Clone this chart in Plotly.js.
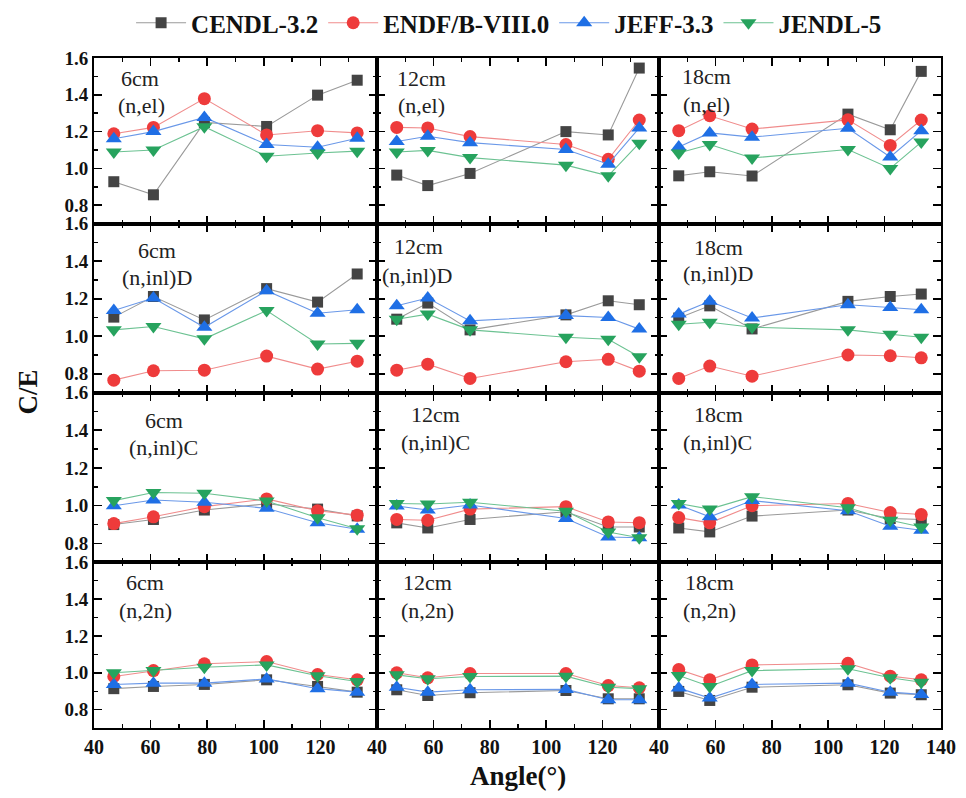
<!DOCTYPE html>
<html>
<head>
<meta charset="utf-8">
<script src="https://cdn.plot.ly/plotly-3.0.1.min.js"></script>
<style>html,body{margin:0;padding:0;background:#fff;}#chart{width:966px;height:798px;}</style>
</head>
<body>
<div id="chart"></div>
<script>
// ---- data ----
const distances = ['6cm', '12cm', '18cm'];
const reactions = ['(n,el)', '(n,inl)D', '(n,inl)C', '(n,2n)'];
const libraries = ['CENDL-3.2', 'ENDF/B-VIII.0', 'JEFF-3.3', 'JENDL-5'];
const angles6cm = [47, 61, 79, 101, 119, 133];
const angles12cm = [47, 58, 73, 107, 122, 133];
const angles18cm = [47, 58, 73, 107, 122, 133];
const xTickVals = [40, 60, 80, 100, 120, 140];
const yTickVals = [0.8, 1.0, 1.2, 1.4, 1.6];

// each array: [6cm values, 12cm values, 18cm values]
const CENDL_el = [[0.928, 0.857, 1.25, 1.228, 1.398, 1.479], [0.964, 0.907, 0.973, 1.20, 1.182, 1.545], [0.96, 0.982, 0.959, 1.295, 1.21, 1.527]];
const ENDF_el = [[1.188, 1.223, 1.379, 1.182, 1.205, 1.193], [1.223, 1.22, 1.173, 1.13, 1.05, 1.263], [1.205, 1.286, 1.214, 1.264, 1.125, 1.263]];
const JEFF_el = [[1.161, 1.20, 1.277, 1.13, 1.115, 1.164], [1.146, 1.175, 1.14, 1.103, 1.023, 1.22], [1.116, 1.193, 1.17, 1.218, 1.062, 1.205]];
const JENDL_el = [[1.089, 1.10, 1.227, 1.066, 1.084, 1.094], [1.089, 1.098, 1.059, 1.018, 0.96, 1.137], [1.084, 1.13, 1.057, 1.103, 1.0, 1.143]];

const CENDL_inlD = [[1.102, 1.212, 1.087, 1.254, 1.182, 1.332], [1.091, 1.177, 1.034, 1.114, 1.189, 1.168], [1.097, 1.162, 1.039, 1.186, 1.212, 1.225]];
const ENDF_inlD = [[0.766, 0.816, 0.819, 0.894, 0.825, 0.867], [0.819, 0.851, 0.775, 0.864, 0.877, 0.814], [0.775, 0.841, 0.787, 0.90, 0.896, 0.885]];
const JEFF_inlD = [[1.137, 1.204, 1.048, 1.243, 1.123, 1.141], [1.163, 1.204, 1.082, 1.11, 1.10, 1.038], [1.118, 1.186, 1.097, 1.168, 1.153, 1.141]];
const JENDL_inlD = [[1.034, 1.052, 0.986, 1.137, 0.959, 0.962], [1.091, 1.118, 1.034, 0.995, 0.984, 0.891], [1.064, 1.075, 1.048, 1.034, 1.011, 0.995]];

const CENDL_inlC = [[0.90, 0.927, 0.977, 1.01, 0.982, 0.946], [0.909, 0.882, 0.927, 0.968, 0.887, 0.887], [0.882, 0.861, 0.945, 0.977, 0.932, 0.927]];
const ENDF_inlC = [[0.905, 0.941, 0.995, 1.036, 0.973, 0.95], [0.927, 0.923, 0.982, 0.995, 0.914, 0.91], [0.937, 0.909, 1.0, 1.012, 0.964, 0.953]];
const JEFF_inlC = [[1.0, 1.03, 1.018, 0.986, 0.91, 0.875], [0.998, 0.977, 1.004, 0.932, 0.834, 0.83], [1.004, 0.941, 1.027, 0.973, 0.891, 0.87]];
const JENDL_inlC = [[1.027, 1.07, 1.066, 1.025, 0.936, 0.878], [1.012, 1.009, 1.018, 0.971, 0.861, 0.83], [1.012, 0.982, 1.048, 0.989, 0.923, 0.887]];

const CENDL_2n = [[0.914, 0.926, 0.937, 0.962, 0.926, 0.895], [0.908, 0.877, 0.892, 0.904, 0.859, 0.859], [0.899, 0.85, 0.922, 0.935, 0.89, 0.881]];
const ENDF_2n = [[0.98, 1.012, 1.049, 1.061, 0.991, 0.962], [1.0, 0.973, 0.996, 0.996, 0.931, 0.919], [1.018, 0.962, 1.043, 1.052, 0.982, 0.962]];
const JEFF_2n = [[0.937, 0.944, 0.944, 0.967, 0.914, 0.895], [0.922, 0.895, 0.908, 0.91, 0.854, 0.854], [0.917, 0.863, 0.937, 0.944, 0.895, 0.883]];
const JENDL_2n = [[1.0, 1.012, 1.03, 1.043, 0.984, 0.953], [0.989, 0.968, 0.98, 0.982, 0.922, 0.914], [0.985, 0.926, 1.012, 1.022, 0.973, 0.949]];

// ---- build ----
const anglesByCol = [angles6cm, angles12cm, angles18cm];
const dataByRow = [
  [CENDL_el, ENDF_el, JEFF_el, JENDL_el],
  [CENDL_inlD, ENDF_inlD, JEFF_inlD, JENDL_inlD],
  [CENDL_inlC, ENDF_inlC, JEFF_inlC, JENDL_inlC],
  [CENDL_2n, ENDF_2n, JEFF_2n, JENDL_2n]
];
const styles = [
  {symbol: 'square', size: 11, mcolor: '#444444', lcolor: '#9a9a9a'},
  {symbol: 'circle', size: 13, mcolor: '#ee3b3b', lcolor: '#f08c8c'},
  {symbol: 'triangle-up', size: 14, mcolor: '#1f6fe5', lcolor: '#6a98e8'},
  {symbol: 'triangle-down', size: 14, mcolor: '#27a35e', lcolor: '#6cc292'}
];

const W = 966, H = 798;
const colEdges = [94, 377, 659, 941];
const rowEdges = [57, 223, 392, 562, 728];
const serif = 'Liberation Serif, Times New Roman, serif';

const traces = [];
const layout = {
  width: W, height: H,
  margin: {l: 0, r: 0, t: 0, b: 0},
  paper_bgcolor: '#ffffff', plot_bgcolor: '#ffffff',
  showlegend: true,
  legend: {
    orientation: 'h', x: 0.527, xanchor: 'center', y: 0.972, yanchor: 'middle',
    font: {family: serif, size: 25, weight: 'bold', color: '#111'},
    itemwidth: 50, tracegroupgap: 0, bgcolor: 'rgba(0,0,0,0)'
  },
  annotations: [],
  shapes: []
};

for (let r = 0; r < 4; r++) {
  for (let c = 0; c < 3; c++) {
    const n = r * 3 + c + 1;
    const xs = n === 1 ? 'x' : 'x' + n;
    const ys = n === 1 ? 'y' : 'y' + n;
    const xk = n === 1 ? 'xaxis' : 'xaxis' + n;
    const yk = n === 1 ? 'yaxis' : 'yaxis' + n;
    layout[xk] = {
      domain: [colEdges[c] / W, colEdges[c + 1] / W],
      anchor: ys,
      range: [40, 140],
      tickmode: 'array', tickvals: xTickVals,
      ticktext: xTickVals.map(v => (v === 140 && c < 2) ? '' : String(v)),
      showticklabels: r === 3,
      ticks: 'inside', ticklen: 8, tickwidth: 1.6, tickcolor: '#000',
      minor: {ticks: 'inside', ticklen: 4, tickwidth: 1.4, tickcolor: '#000', dtick: 10, tick0: 40},
      showline: true, linewidth: 2, linecolor: '#000', mirror: 'allticks',
      showgrid: false, zeroline: false,
      tickfont: {family: serif, size: 20, weight: 'bold', color: '#111'},
      fixedrange: true
    };
    layout[yk] = {
      domain: [1 - rowEdges[r + 1] / H, 1 - rowEdges[r] / H],
      anchor: xs,
      range: [0.7, 1.6],
      tickmode: 'array', tickvals: yTickVals,
      ticktext: yTickVals.map(v => v.toFixed(1)),
      showticklabels: c === 0,
      ticks: 'inside', ticklen: 8, tickwidth: 1.6, tickcolor: '#000',
      minor: {ticks: 'inside', ticklen: 4, tickwidth: 1.4, tickcolor: '#000', dtick: 0.1, tick0: 0.7},
      showline: true, linewidth: 2, linecolor: '#000', mirror: 'allticks',
      showgrid: false, zeroline: false,
      tickfont: {family: serif, size: 19, weight: 'bold', color: '#111'},
      fixedrange: true
    };
    for (let k = 0; k < 4; k++) {
      const st = styles[k];
      traces.push({
        type: 'scatter', mode: 'lines+markers',
        x: anglesByCol[c], y: dataByRow[r][k][c],
        xaxis: xs, yaxis: ys,
        name: libraries[k], legendgroup: libraries[k], showlegend: n === 1,
        line: {color: st.lcolor, width: 1.1},
        marker: {symbol: st.symbol, size: st.size, color: st.mcolor, line: {width: 0}},
        cliponaxis: false
      });
    }
  }
}

// panel labels (distance + reaction)
const distPos = [
  [[140, 78], [421, 78], [706, 76]],
  [[157, 250], [418, 246], [718, 247]],
  [[164, 420], [435, 414], [718, 414]],
  [[145, 582], [427, 582], [709, 582]]
];
const reacPos = [
  [[141, 105], [421, 105], [706, 104]],
  [[157, 277], [417, 275], [718, 273]],
  [[163, 447], [435, 442], [717, 442]],
  [[145, 610], [427, 610], [709, 610]]
];
for (let r = 0; r < 4; r++) {
  for (let c = 0; c < 3; c++) {
    layout.annotations.push({
      xref: 'paper', yref: 'paper', x: distPos[r][c][0] / W, y: 1 - distPos[r][c][1] / H,
      xanchor: 'center', yanchor: 'middle', showarrow: false, text: distances[c],
      font: {family: serif, size: 22, color: '#222'}
    });
    layout.annotations.push({
      xref: 'paper', yref: 'paper', x: reacPos[r][c][0] / W, y: 1 - reacPos[r][c][1] / H,
      xanchor: 'center', yanchor: 'middle', showarrow: false, text: reactions[r],
      font: {family: serif, size: 22, color: '#222'}
    });
  }
}
// axis titles
layout.annotations.push({
  xref: 'paper', yref: 'paper', x: 28 / W, y: 1 - 392 / H, xanchor: 'center', yanchor: 'middle',
  showarrow: false, text: 'C/E', textangle: -90,
  font: {family: serif, size: 27, weight: 'bold', color: '#111'}
});
layout.annotations.push({
  xref: 'paper', yref: 'paper', x: 518 / W, y: 1 - 776 / H, xanchor: 'center', yanchor: 'middle',
  showarrow: false, text: 'Angle(°)',
  font: {family: serif, size: 27, weight: 'bold', color: '#111'}
});

Plotly.newPlot('chart', traces, layout, {displayModeBar: false, staticPlot: true});
</script>
</body>
</html>
